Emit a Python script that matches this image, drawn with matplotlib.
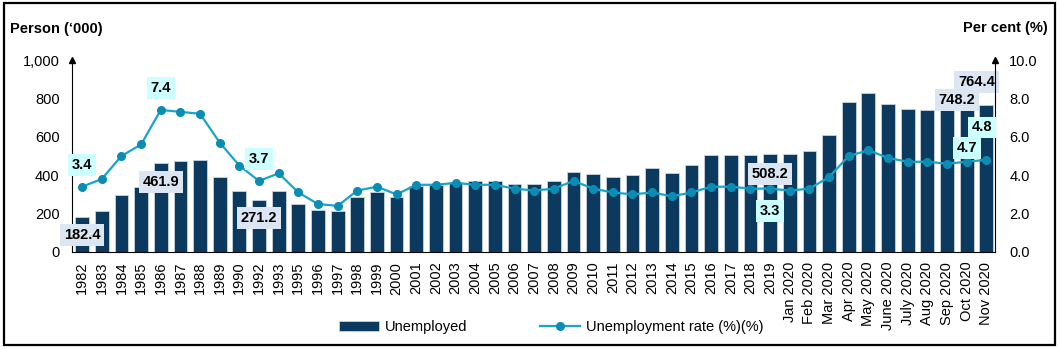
import matplotlib.pyplot as plt
from matplotlib.patches import Rectangle

plt.rcParams['font.family'] = ['Liberation Sans', 'DejaVu Sans']

# categories
periods = [str(y) for y in [1982, 1983, 1984, 1985, 1986, 1987, 1988, 1989, 1990, 1992,
                            1993, 1995, 1996, 1997, 1998, 1999, 2000, 2001, 2002, 2003,
                            2004, 2005, 2006, 2007, 2008, 2009, 2010, 2011, 2012, 2013,
                            2014, 2015, 2016, 2017, 2018, 2019]]
periods += ['Jan 2020', 'Feb 2020', 'Mar 2020', 'Apr 2020', 'May 2020', 'June 2020',
            'July 2020', 'Aug 2020', 'Sep 2020', 'Oct 2020', 'Nov 2020']

# unemployed, '000 persons
unemployed = [182.4, 215, 297, 337, 461.9, 472, 479, 389, 316, 271.2,
              318, 250, 217, 215, 285, 314, 286, 344, 347, 365,
              368, 370, 356, 352, 370, 418, 406, 391, 403, 436,
              411, 451, 503, 503, 503, 508.2,
              510, 524, 609, 779, 826, 773, 745, 742, 738, 748.2, 764.4]

# unemployment rate, %
rate = [3.4, 3.8, 5.0, 5.6, 7.4, 7.3, 7.2, 5.7, 4.5, 3.7,
        4.1, 3.1, 2.5, 2.4, 3.2, 3.4, 3.0, 3.5, 3.5, 3.6,
        3.5, 3.5, 3.3, 3.2, 3.3, 3.7, 3.3, 3.1, 3.0, 3.1,
        2.9, 3.1, 3.4, 3.4, 3.3, 3.3,
        3.2, 3.3, 3.9, 5.0, 5.3, 4.9, 4.7, 4.7, 4.6, 4.7, 4.8]

bar_col = '#0b3a5e'
line_col = '#18a5cb'
mark_col = '#0a8db4'

fig = plt.figure(figsize=(10.6, 3.49), dpi=100)
ax = fig.add_axes([0.068, 0.278, 0.871, 0.550])
x = list(range(len(periods)))
ax.bar(x, unemployed, width=0.70, color=bar_col, edgecolor='#c9d3dd', linewidth=0.6,
       label='Unemployed', zorder=2)
ax.set_ylim(0, 1000)
ax.set_xlim(-0.51, 46.46)
ax.set_yticks(range(0, 1001, 200))
ax.set_yticklabels(['0', '200', '400', '600', '800', '1,000'], fontsize=10.5)
ax.set_xticks(x)
ax.set_xticklabels(periods, rotation=90, fontsize=10.5)
ax.tick_params(axis='y', length=0, pad=9)
ax.tick_params(axis='x', length=0, pad=7)
for s in ['top', 'right']:
    ax.spines[s].set_visible(False)

ax2 = ax.twinx()
ax2.plot(x, rate, color=line_col, lw=1.6, marker='o', ms=5.5, mfc=mark_col, mec=mark_col,
         label='Unemployment rate (%)(%)', zorder=3)
ax2.set_ylim(0, 10)
ax2.set_yticks(range(0, 11, 2))
ax2.set_yticklabels([f'{v:.1f}' for v in range(0, 11, 2)], fontsize=10.5)
ax2.tick_params(length=0, pad=10)
for s in ['top', 'left', 'bottom']:
    ax2.spines[s].set_visible(False)

# arrow heads on the vertical axes
ax.plot([0], [1.0], marker='^', color='black', ms=5, transform=ax.transAxes, clip_on=False)
ax.plot([1], [1.0], marker='^', color='black', ms=5, transform=ax.transAxes, clip_on=False)

bar_box = dict(boxstyle='square,pad=0.25', fc='#dce6f2', ec='none')
line_box = dict(boxstyle='square,pad=0.25', fc='#ccffff', ec='none')

# bar labels: (index, value, y position in data units, x shift)
bar_labels = [(0, 182.4, 88, 0), (4, 461.9, 365, 0), (9, 271.2, 177, 0),
              (35, 508.2, 406, 0), (45, 748.2, 792, -0.5), (46, 764.4, 885, -0.5)]
for i, v, yy, dx in bar_labels:
    ax.text(i + dx, yy, f'{v:.1f}', ha='center', va='center', fontsize=10.5,
            fontweight='bold', bbox=bar_box, zorder=5)

line_labels = [(0, 3.4, 4.53, 0), (4, 7.4, 8.54, 0), (9, 3.7, 4.84, 0),
               (35, 3.3, 2.14, 0), (45, 4.7, 5.42, 0), (46, 4.8, 6.5, -0.2)]
for i, v, yy, dx in line_labels:
    ax2.text(i + dx, yy, f'{v:.1f}', ha='center', va='center', fontsize=10.5,
             fontweight='bold', bbox=line_box, zorder=5)

fig.text(0.009, 0.917, "Person (\u2018000)", fontsize=10.5, fontweight='bold', va='center')
fig.text(0.988, 0.920, 'Per cent (%)', fontsize=10.5, fontweight='bold', ha='right',
         va='center')

h1, l1 = ax.get_legend_handles_labels()
h2, l2 = ax2.get_legend_handles_labels()
fig.legend(h1 + h2, l1 + l2, loc='center left', bbox_to_anchor=(0.307, 0.063), ncol=2,
           frameon=False, fontsize=10.5, handlelength=2.75, handleheight=0.6,
           columnspacing=5, handletextpad=0.4)

# figure border
fig.patches.append(Rectangle((0.004, 0.012), 0.991, 0.978, transform=fig.transFigure,
                             fill=False, ec='black', lw=1.6))

fig.savefig('out.png', dpi=100)
